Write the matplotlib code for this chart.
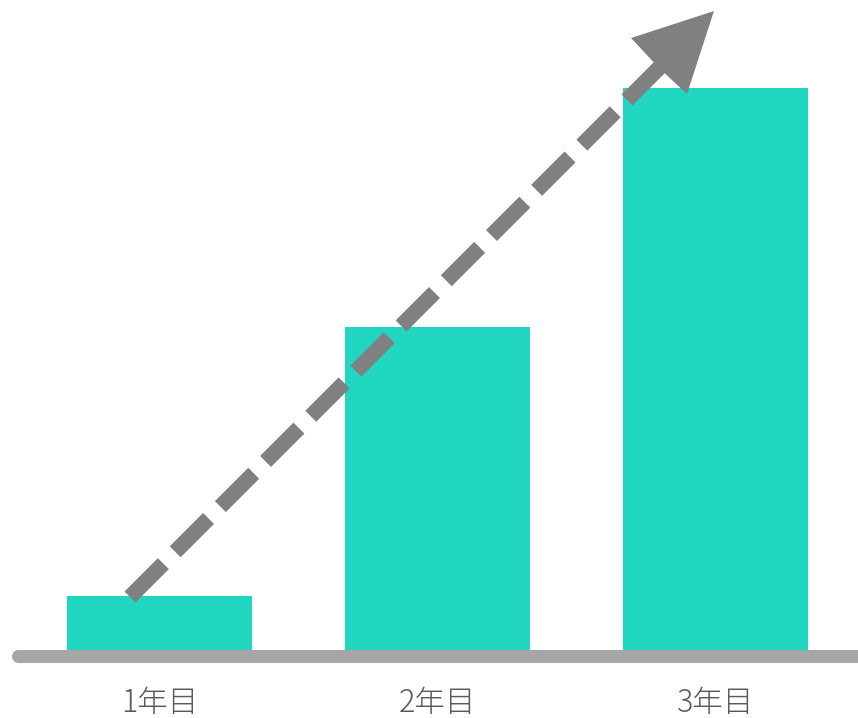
import matplotlib
matplotlib.use("Agg")
import matplotlib.pyplot as plt
from matplotlib.patches import Polygon

plt.rcParams['font.family'] = ['Noto Sans CJK JP', 'DejaVu Sans']

# データ
labels = ['1年目', '2年目', '3年目']
values = [59, 328, 567]

bar_color = '#20D6C1'
arrow_color = '#808080'
base_color = '#A6A6A6'
text_color = '#5A5A5A'

fig = plt.figure(figsize=(8.58, 7.18), dpi=100)
ax = fig.add_axes([0, 0, 1, 1])

pitch = 278.0  # 棒の間隔(px)
x0 = 159.5     # 1本目の中心(px)
ax.set_xlim(-x0 / pitch, (858 - x0) / pitch)
ax.set_ylim(-63, 655)
ax.axis('off')


def px(xp, yp):
    # 画像上のピクセル位置 -> データ座標
    return (xp - x0) / pitch, 655 - yp


xs = list(range(len(values)))
ax.bar(xs, values, width=185 / pitch, color=bar_color, zorder=1)

# 基準線
lx0, ly = px(17.5, 655.5)
lx1, _ = px(870, 655.5)
ax.plot([lx0, lx1], [ly, ly], color=base_color, lw=9.4,
        solid_capstyle='round', zorder=2)

# ラベル
for x, lab in zip(xs, labels):
    ax.text(x, px(0, 703)[1], lab, ha='center', va='center',
            fontsize=22, color=text_color, fontweight='light')

# 点線の矢印
sx, sy = px(130, 597)
nx, ny = px(662, 65)
w = 15.5  # 線幅(px)
line, = ax.plot([sx, nx], [sy, ny], color=arrow_color, lw=w * 0.72,
                solid_capstyle='butt', dash_capstyle='butt', zorder=3)
line.set_dashes((47.2 / w, 16.7 / w))

head = [px(714, 11), px(631, 38), px(659, 68), px(687, 94)]
ax.add_patch(Polygon(head, closed=True, color=arrow_color, lw=0, zorder=4))

fig.savefig('out.png', dpi=100)
